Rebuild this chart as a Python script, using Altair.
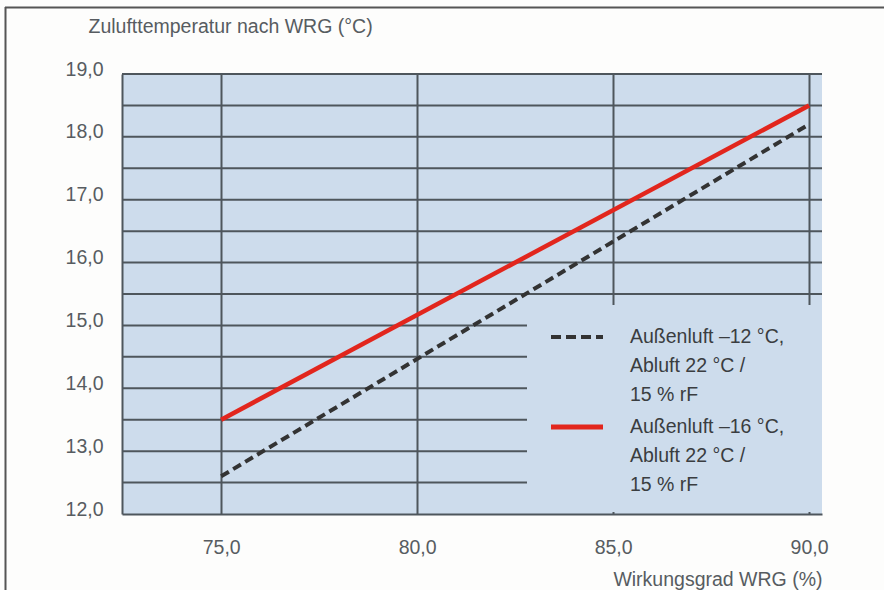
import altair as alt
import pandas as pd

# ---- data ----
x_vals = [75.0, 90.0]
y_minus12 = [12.6, 18.2]   # Außenluft -12 °C (dashed)
y_minus16 = [13.5, 18.5]   # Außenluft -16 °C (red)
series_labels = [
    "Außenluft –12 °C,\nAbluft 22 °C /\n15 % rF",
    "Außenluft –16 °C,\nAbluft 22 °C /\n15 % rF",
]
x_ticks = [75, 80, 85, 90]
y_ticks = [12, 13, 14, 15, 16, 17, 18, 19]
y_grid = [12.5, 13.0, 13.5, 14.0, 14.5, 15.0, 15.5, 16.0, 16.5,
          17.0, 17.5, 18.0, 18.5, 19.0]
x_title = "Wirkungsgrad WRG (%)"
y_title = "Zulufttemperatur nach WRG (°C)"

df12 = pd.DataFrame({"x": x_vals, "y": y_minus12})
df16 = pd.DataFrame({"x": x_vals, "y": y_minus16})
dfgrid = pd.DataFrame({"y": y_grid})
one = pd.DataFrame({"a": [0]})

FONT = "Liberation Sans"
TXT = "#575c61"
GRID = "#4e565c"
BLUE = "#cddcec"
RED = "#e2261d"
DARK = "#333333"

xscale = alt.Scale(domain=[72.47, 90.33], nice=False, zero=False)
yscale = alt.Scale(domain=[12, 19], nice=False, zero=False)

xaxis = alt.Axis(
    values=x_ticks, grid=True, ticks=False, tickSize=0, domain=True,
    domainColor=GRID, domainWidth=2, gridColor=GRID, gridWidth=2,
    labelExpr="replace(format(datum.value, '.1f'), '.', ',')",
    labelFont=FONT, labelFontSize=19.5, labelColor=TXT,
    labelBaseline="alphabetic", labelPadding=39, labelFlush=False,
    labelOverlap=False,
    title=x_title, titleFont=FONT, titleFontSize=19.5, titleFontWeight="normal",
    titleColor=TXT, titleX=700, titleY=71, titleAlign="right",
    titleBaseline="alphabetic",
)
yaxis = alt.Axis(
    values=y_ticks, grid=False, ticks=False, tickSize=0, domain=True,
    domainColor=GRID, domainWidth=2,
    labelExpr="replace(format(datum.value, '.1f'), '.', ',')",
    labelFont=FONT, labelFontSize=19.5, labelColor=TXT,
    labelBaseline="alphabetic", labelOffset=1, labelPadding=19,
    labelFlush=False, labelOverlap=False,
    title=y_title, titleFont=FONT, titleFontSize=19.5, titleFontWeight="normal",
    titleColor=TXT, titleAngle=0, titleX=-34, titleY=-42, titleAlign="left",
    titleBaseline="alphabetic",
)

hgrid = alt.Chart(dfgrid).mark_rule(color=GRID, strokeWidth=2).encode(
    y=alt.Y("y:Q", scale=yscale, axis=yaxis),
)

line12 = alt.Chart(df12).mark_line(
    color=DARK, strokeWidth=4, strokeDash=[9, 5]
).encode(
    x=alt.X("x:Q", scale=xscale, axis=xaxis),
    y=alt.Y("y:Q", scale=yscale),
)
line16 = alt.Chart(df16).mark_line(color=RED, strokeWidth=4.5).encode(
    x=alt.X("x:Q", scale=xscale),
    y=alt.Y("y:Q", scale=yscale),
)

# legend box (covers grid lines like in the original)
legend_bg = alt.Chart(one).mark_rect(fill=BLUE).encode(
    x=alt.value(405), x2=alt.value(700), y=alt.value(231), y2=alt.value(438)
)
leg_sym12 = alt.Chart(one).mark_rule(color=DARK, strokeWidth=4, strokeDash=[10, 5]).encode(
    x=alt.value(429), x2=alt.value(481), y=alt.value(263)
)
leg_sym16 = alt.Chart(one).mark_rule(color=RED, strokeWidth=5).encode(
    x=alt.value(429), x2=alt.value(481), y=alt.value(353)
)
leg_txt12 = alt.Chart(one).mark_text(
    align="left", baseline="alphabetic", font=FONT, fontSize=19.5,
    color="#3a3d40", lineBreak="\n", lineHeight=29
).encode(x=alt.value(508), y=alt.value(269), text=alt.value(series_labels[0]))
leg_txt16 = alt.Chart(one).mark_text(
    align="left", baseline="alphabetic", font=FONT, fontSize=19.5,
    color="#3a3d40", lineBreak="\n", lineHeight=29
).encode(x=alt.value(508), y=alt.value(359), text=alt.value(series_labels[1]))

# outer frame (top and left border of the figure)
frame_top = alt.Chart(one).mark_rule(color="#555555", strokeWidth=2).encode(
    x=alt.value(-117), x2=alt.value(762), y=alt.value(-66.5)
)
frame_left = alt.Chart(one).mark_rule(color="#555555", strokeWidth=2).encode(
    x=alt.value(-116.5), y=alt.value(-67), y2=alt.value(516)
)

chart = alt.layer(
    hgrid, line12, legend_bg, line16, leg_sym12, leg_sym16, leg_txt12, leg_txt16,
    frame_top, frame_left,
).properties(
    width=700, height=440,
    autosize=alt.AutoSizeParams(type="none"),
    padding={"left": 122, "top": 74, "right": 62, "bottom": 76},
    background="#fdfdfc",
).configure_view(fill=BLUE, stroke=None)

chart.save("out.html", embed_options={"renderer": "svg", "actions": False})
